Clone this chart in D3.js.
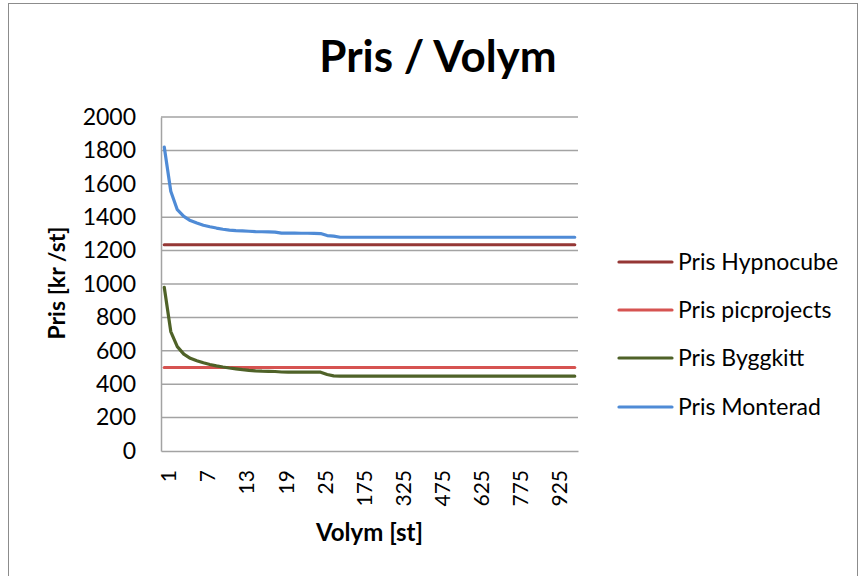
<!DOCTYPE html>
<html>
<head>
<meta charset="utf-8">
<script src="https://cdn.jsdelivr.net/npm/d3@7"></script>
<style>
  html, body { margin: 0; padding: 0; background: #fff; }
  svg { display: block; }
  text { font-family: Lato, "Open Sans", sans-serif; fill: #000; }
</style>
</head>
<body>
<svg id="chart" width="860" height="576"></svg>
<script>
// ---- data ----
const categories = [1,2,3,4,5,6,7,8,9,10,11,12,13,14,15,16,17,18,19,20,21,22,23,24,25,
  50,75,100,125,150,175,200,225,250,275,300,325,350,375,400,425,450,475,500,525,550,575,600,
  625,650,675,700,725,750,775,800,825,850,875,900,925,950,975,1000];

const prisHypnocube = [1235,1235,1235,1235,1235,1235,1235,1235,1235,1235,1235,1235,1235,1235,1235,1235,
  1235,1235,1235,1235,1235,1235,1235,1235,1235,1235,1235,1235,1235,1235,1235,1235,
  1235,1235,1235,1235,1235,1235,1235,1235,1235,1235,1235,1235,1235,1235,1235,1235,
  1235,1235,1235,1235,1235,1235,1235,1235,1235,1235,1235,1235,1235,1235,1235,1235];

const prisPicprojects = [500,500,500,500,500,500,500,500,500,500,500,500,500,500,500,500,
  500,500,500,500,500,500,500,500,500,500,500,500,500,500,500,500,
  500,500,500,500,500,500,500,500,500,500,500,500,500,500,500,500,
  500,500,500,500,500,500,500,500,500,500,500,500,500,500,500,500];

const prisByggkitt = [980,715,625,580,555,540,528,518,510,503,497,492,487,483,480,478,477,476,473,472,472,472,472,472,472,
  458,450,448,448,448,448,448,448,448,448,448,448,448,448,448,448,448,448,448,448,448,448,448,
  448,448,448,448,448,448,448,448,448,448,448,448,448,448,448,448];

const prisMonterad = [1820,1555,1445,1405,1380,1365,1352,1343,1335,1328,1323,1320,1318,1316,1314,1313,1312,1311,1305,1305,1305,1304,1304,1303,1302,
  1290,1287,1280,1280,1280,1280,1280,1280,1280,1280,1280,1280,1280,1280,1280,1280,1280,1280,1280,1280,1280,1280,1280,
  1280,1280,1280,1280,1280,1280,1280,1280,1280,1280,1280,1280,1280,1280,1280,1280];

const yTicks = [0,200,400,600,800,1000,1200,1400,1600,1800,2000];
const xTickLabels = [1,7,13,19,25,175,325,475,625,775,925];

const seriesNames = ["Pris Hypnocube","Pris picprojects","Pris Byggkitt","Pris Monterad"];
const seriesValues = [prisHypnocube, prisPicprojects, prisByggkitt, prisMonterad];
const seriesColors = ["#953735","#d65351","#4f6228","#4f8bd6"];

// ---- layout ----
const svg = d3.select("#chart");
const L = 161, R = 578, T = 117, B = 451;

// outer frame
svg.append("rect").attr("x", 8.5).attr("y", 3.5).attr("width", 849).attr("height", 600)
  .attr("fill", "none").attr("stroke", "#8c8c8c").attr("stroke-width", 1);

const x = d3.scalePoint().domain(categories).range([L, R]).padding(0.5);
const y = d3.scaleLinear().domain([0, 2000]).range([B, T]);

// gridlines
svg.append("g").selectAll("line").data(yTicks.filter(d => d > 0)).join("line")
  .attr("x1", L).attr("x2", R)
  .attr("y1", d => y(d)).attr("y2", d => y(d))
  .attr("stroke", "#a3a3a3").attr("stroke-width", 1.5);

// y axis
const yAxis = d3.axisLeft(y).tickValues(yTicks).tickFormat(d3.format("d")).tickSize(0).tickPadding(25);
const gy = svg.append("g").attr("transform", `translate(${L},0)`).call(yAxis);
gy.select(".domain").attr("stroke", "#a3a3a3").attr("stroke-width", 1.5);
gy.selectAll("text").style("font-size", "23px").style("font-family", "Lato, sans-serif").attr("fill", "#1a1a1a");

// x axis
const xAxis = d3.axisBottom(x).tickValues(xTickLabels).tickSize(0).tickPadding(0);
const gx = svg.append("g").attr("transform", `translate(0,${B})`).call(xAxis);
gx.select(".domain").attr("stroke", "#a3a3a3").attr("stroke-width", 1.5);
gx.selectAll("text")
  .style("font-size", "21px").style("font-family", "Lato, sans-serif").attr("fill", "#1a1a1a")
  .attr("text-anchor", "end")
  .attr("dy", null)
  .attr("transform", "translate(3,19) rotate(-90)")
  .attr("x", 0).attr("y", 0)
  .attr("dominant-baseline", "central");

// lines
const line = d3.line().x((d, i) => x(categories[i])).y(d => y(d));
svg.append("g").selectAll("path").data(seriesValues).join("path")
  .attr("d", d => line(d))
  .attr("fill", "none")
  .attr("stroke", (d, i) => seriesColors[i])
  .attr("stroke-width", 3.2)
  .attr("stroke-linejoin", "round")
  .attr("stroke-linecap", "round");

// title
svg.append("text").attr("x", 438).attr("y", 72).attr("text-anchor", "middle")
  .style("font-size", "44px").style("font-weight", "bold").text("Pris / Volym");

// axis titles
svg.append("text").attr("transform", `translate(65,${(T + B) / 2 - 1}) rotate(-90)`)
  .attr("text-anchor", "middle")
  .style("font-size", "23px").style("font-weight", "bold").text("Pris [kr /st]");
svg.append("text").attr("x", (L + R) / 2).attr("y", 541).attr("text-anchor", "middle")
  .style("font-size", "24px").style("font-weight", "bold").text("Volym [st]");

// legend
const legend = svg.append("g");
const legY = [262, 310, 358, 407];
seriesNames.forEach((name, i) => {
  legend.append("line").attr("x1", 619).attr("x2", 672).attr("y1", legY[i]).attr("y2", legY[i])
    .attr("stroke", seriesColors[i]).attr("stroke-width", 3.2).attr("stroke-linecap", "round");
  legend.append("text").attr("x", 678).attr("y", legY[i]).attr("dy", "0.35em")
    .style("font-size", "23px").attr("fill", "#1a1a1a").text(name);
});
</script>
</body>
</html>
